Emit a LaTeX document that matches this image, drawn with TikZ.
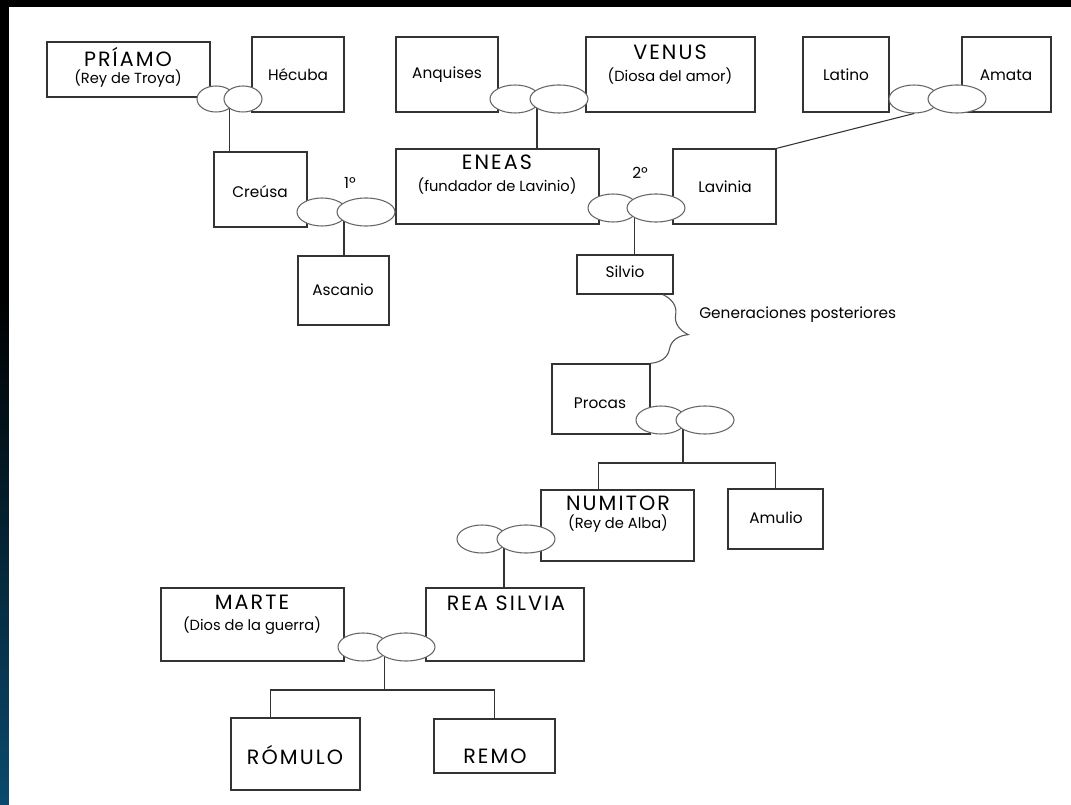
\documentclass[tikz,border=0pt]{standalone}
\usepackage{fontspec}
\setmainfont{Poppins}
\newfontfamily\capsfont{Poppins}[LetterSpace=10]
\usetikzlibrary{shapes.geometric,fit,calc,backgrounds,decorations.pathreplacing}

\begin{document}
\begin{tikzpicture}[x=0.75pt,y=0.75pt,yscale=-1,xscale=1,
  box/.style={draw={rgb,255:red,51;green,51;blue,51},line width=1pt,inner sep=0pt},
  ring/.style={ellipse,draw={rgb,255:red,102;green,102;blue,102},fill=white,line width=0.8pt,inner sep=0pt,minimum width=37.5pt,minimum height=21pt},
  smallring/.style={ring,minimum width=28.5pt,minimum height=19.5pt},
  widering/.style={ring,minimum width=43.5pt},
  link/.style={draw={rgb,255:red,51;green,51;blue,51},line width=0.8pt},
  titletxt/.style={inner sep=0pt,font=\capsfont\fontsize{15.5}{17}\selectfont},
  subtxt/.style={inner sep=0pt,font=\fontsize{11}{13}\selectfont},
  nametxt/.style={inner sep=0pt,font=\fontsize{11.5}{13}\selectfont}]

%Page: black frame, blue strip at the left
\begin{pgfonlayer}{background}
\fill[black] (0,0) rectangle (1071,805);
\shade[top color=black,bottom color={rgb,255:red,10;green,74;blue,110}] (0,300) rectangle (9,805);
\fill[white] (9,7) rectangle (1071,805);
\end{pgfonlayer}

%Shape: Rectangle -- first row
\node[box,fit={(47,42) (210,97)}] (priamo) {};
\node[box,fit={(252,37) (344,112)}] (hecuba) {};
\node[box,fit={(396,37) (498,112)}] (anquises) {};
\node[box,fit={(586,37) (755,112)}] (venus) {};
\node[box,fit={(803,37) (889,112)}] (latino) {};
\node[box,fit={(962,37) (1051,112)}] (amata) {};
%Shape: Rectangle -- second row
\node[box,fit={(214,152) (307,227)}] (creusa) {};
\node[box,fit={(396,149) (599,224)}] (eneas) {};
\node[box,fit={(673,149) (776,224)}] (lavinia) {};
\node[box,fit={(298,256) (389,325)}] (ascanio) {};
\node[box,fit={(577,255) (673,294)}] (silvio) {};
%Shape: Rectangle -- Alba
\node[box,fit={(552,364) (650,434)}] (procas) {};
\node[box,fit={(541,490) (694,561)}] (numitor) {};
\node[box,fit={(728,489) (823,549)}] (amulio) {};
\node[box,fit={(161,588) (344,661)}] (marte) {};
\node[box,fit={(426,588) (584,661)}] (rea) {};
\node[box,fit={(231,718) (360,790)}] (romulo) {};
\node[box,fit={(434,719) (555,773)}] (remo) {};

%Shape: Ellipse -- marriages
\node[smallring] (p1a) at (216,99) {};
\node[smallring] (p1b) at (243,99) {};
\node[ring] (p2a) at (322,212) {};
\node[widering] (p2b) at (366,212) {};
\node[ring] (p3a) at (515,99) {};
\node[widering] (p3b) at (559,99) {};
\node[ring] (p4a) at (613,208) {};
\node[widering] (p4b) at (656,208) {};
\node[ring] (p5a) at (914,99) {};
\node[widering] (p5b) at (957,99) {};
\node[ring] (p6a) at (661,420) {};
\node[widering] (p6b) at (705,420) {};
\node[ring] (p7a) at (482,539) {};
\node[widering] (p7b) at (526,539) {};
\node[ring] (p8a) at (363,647) {};
\node[widering] (p8b) at (406,647) {};

\coordinate (k1) at ($(p1a)!0.5!(p1b)$);
\coordinate (k2) at ($(p2a)!0.5!(p2b)$);
\coordinate (k3) at ($(p3a)!0.5!(p3b)$);
\coordinate (k4) at ($(p4a)!0.5!(p4b)$);
\coordinate (k6) at ($(p6a)!0.5!(p6b)$);
\coordinate (k7) at ($(p7a)!0.5!(p7b)$);
\coordinate (k8) at ($(p8a)!0.5!(p8b)$);

%Straight Lines -- children, under the ellipses
\begin{pgfonlayer}{background}
\draw[link] (k1) -- (k1 |- creusa.north);
\draw[link] (k2) -- (k2 |- ascanio.north);
\draw[link] (k3) -- (k3 |- eneas.north);
\draw[link] (k4) -- (k4 |- silvio.north);
\draw[link] (k6) -- ++(0,43) coordinate (bar6);
\draw[link] ([xshift=-14.6pt]numitor.north) |- (bar6) -| (amulio.north);
\draw[link] (k7) -- (k7 |- rea.north);
\draw[link] (k8) -- ++(0,43) coordinate (bar8);
\draw[link] ([xshift=-19.1pt]romulo.north) |- (bar8) -| (remo.north);
\end{pgfonlayer}
\draw[link] (p5a.south) -- (lavinia.north east);

%Brace -- later generations
\draw[link,draw={rgb,255:red,85;green,85;blue,85},decorate,decoration={brace,amplitude=24pt}] ([xshift=-8pt]silvio.south east) -- (procas.north east);

% Text Node
\node[titletxt] (priamoT) at (128,57) {PRÍAMO};
\node[subtxt] (priamoS) at (128,79) {(Rey de Troya)};
\node[nametxt] (hecubaT) at (298,75) {Hécuba};
\node[nametxt] (anquisesT) at (447,75) {Anquises};
\node[titletxt] (venusT) at (670,52) {VENUS};
\node[subtxt] (venusS) at (670,76) {(Diosa del amor)};
\node[nametxt] (latinoT) at (846,75) {Latino};
\node[nametxt] (amataT) at (1006,75) {Amata};
\node[nametxt] (creusaT) at (260,192) {Creúsa};
\node[nametxt] (first) at (350,183) {1º};
\node[titletxt] (eneasT) at (497,162) {ENEAS};
\node[subtxt] (eneasS) at (497,186) {(fundador de Lavinio)};
\node[nametxt] (second) at (640,173) {2º};
\node[nametxt] (laviniaT) at (725,187) {Lavinia};
\node[nametxt] (ascanioT) at (343,290) {Ascanio};
\node[nametxt] (silvioT) at (625,272) {Silvio};
\node[nametxt,anchor=west] (gen) at (699,315) {Generaciones posteriores};
\node[nametxt] (procasT) at (600,403) {Procas};
\node[titletxt] (numitorT) at (618,503) {NUMITOR};
\node[subtxt] (numitorS) at (618,524) {(Rey de Alba)};
\node[nametxt] (amulioT) at (776,518) {Amulio};
\node[titletxt] (marteT) at (252,602) {MARTE};
\node[subtxt] (marteS) at (252,626) {(Dios de la guerra)};
\node[titletxt] (reaT) at (506,603) {REA SILVIA};
\node[titletxt] (romuloT) at (295,755) {RÓMULO};
\node[titletxt] (remoT) at (495,756) {REMO};

\end{tikzpicture}
\end{document}
